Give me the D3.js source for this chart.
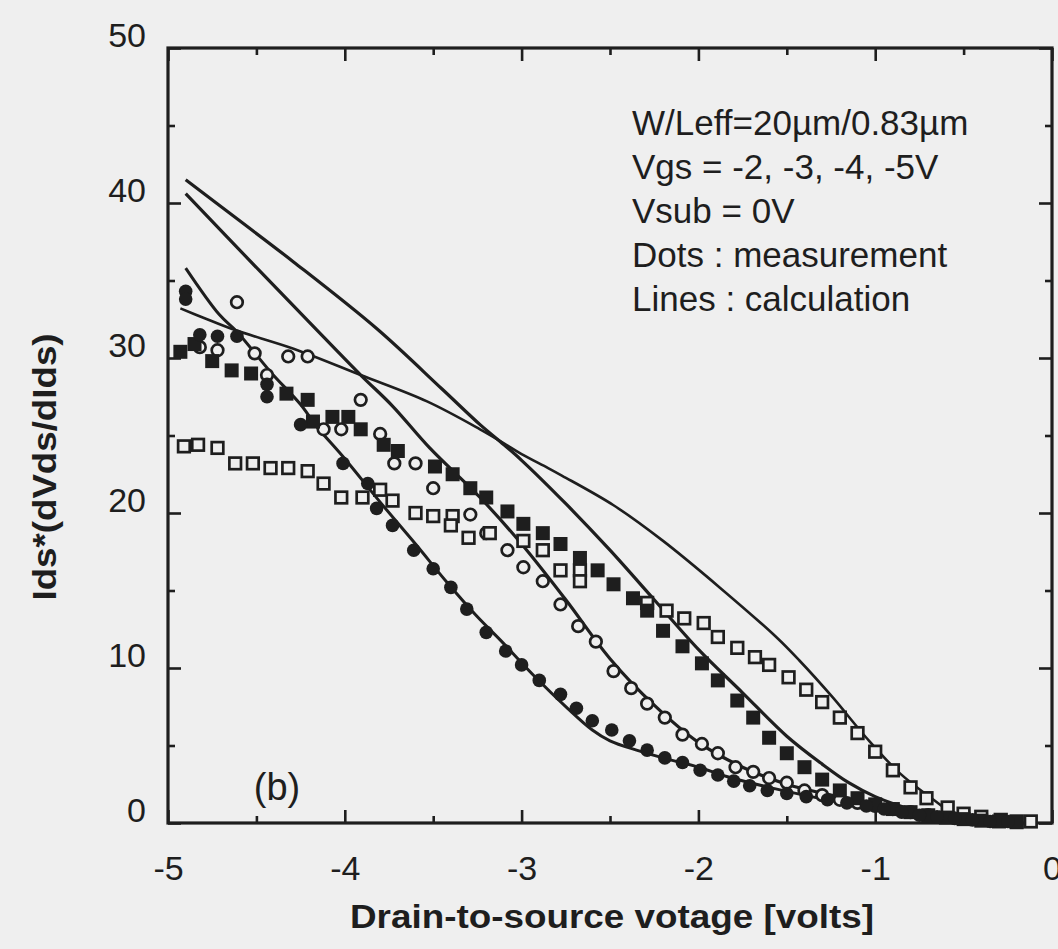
<!DOCTYPE html>
<html><head><meta charset="utf-8">
<script src="https://cdn.jsdelivr.net/npm/d3@7"></script>
<style>
body{margin:0;background:#efefef;}
svg{display:block;background:#efefef;}
text{font-family:"Liberation Sans",Arial,Helvetica,sans-serif;fill:#1e1e1e;}
</style>
</head><body>
<svg id="chart" width="1058" height="949"></svg>
<script>
// ---------- data ----------
const xMajorTicks = [-5,-4,-3,-2,-1,0];
const xMinorTicks = [-4.5,-3.5,-2.5,-1.5,-0.5];
const yMajorTicks = [0,10,20,30,40,50];
const yMinorTicks = [5,15,25,35,45];

const annotation = ["W/Leff=20\u00b5m/0.83\u00b5m","Vgs = -2, -3, -4, -5V","Vsub = 0V","Dots : measurement","Lines : calculation"];
const xTitle = "Drain-to-source votage [volts]";
const yTitle = "Ids*(dVds/dIds)";
const panelLabel = "(b)";

// calculation lines
const calcA = [[-4.90,41.5],[-4.60,38.9],[-4.29,36.2],[-3.82,31.9],[-3.45,28.0],[-3.235,25.7],[-3.12,24.6],[-3.0,23.4],[-2.75,20.6],[-2.5,17.6],[-2.25,14.4],[-2.0,11.2],[-1.75,8.4],[-1.5,5.6],[-1.3,3.8],[-1.15,2.6],[-1.0,1.7],[-0.8,0.9],[-0.6,0.4],[-0.4,0.15],[-0.2,0.05]];
const calcB = [[-4.90,40.6],[-4.48,35.6],[-4.20,32.3],[-3.91,28.9],[-3.73,26.9],[-3.52,24.2],[-3.235,21.0],[-3.0,18.0],[-2.75,14.4],[-2.5,10.6],[-2.25,7.6],[-2.0,5.2],[-1.75,3.6],[-1.5,2.5],[-1.25,1.8],[-1.0,1.2],[-0.75,0.7],[-0.5,0.35],[-0.25,0.1]];
const calcC = [[-4.90,35.8],[-4.71,32.8],[-4.61,31.7],[-4.42,29.1],[-4.25,27.0],[-4.16,25.6],[-4.0,23.5],[-3.8,20.7],[-3.6,18.0],[-3.42,15.5],[-3.25,13.3],[-3.12,11.8],[-2.93,9.5],[-2.74,7.4],[-2.6,6.0],[-2.5,5.3],[-2.35,4.7],[-2.2,4.2],[-2.0,3.6],[-1.84,3.0],[-1.6,2.3],[-1.27,1.5],[-1.0,1.0],[-0.8,0.7],[-0.6,0.4],[-0.4,0.2],[-0.2,0.05]];
const calcD = [[-4.93,33.2],[-4.80,32.6],[-4.62,31.8],[-4.29,30.6],[-3.91,28.9],[-3.535,27.2],[-3.235,25.4],[-3.1,24.5],[-3.0,23.8],[-2.85,22.9],[-2.77,22.4],[-2.48,20.5],[-2.20,18.2],[-1.88,15.2],[-1.56,12.0],[-1.43,10.5],[-1.24,8.1],[-1.05,5.5],[-0.86,3.2],[-0.67,1.5],[-0.58,0.8],[-0.39,0.2],[-0.2,0.05]];

// measurements
const filledCircles = [[-4.90,34.3],[-4.90,33.8],[-4.82,31.5],[-4.72,31.4],[-4.61,31.4],[-4.44,28.3],[-4.44,27.5],[-4.25,25.7],[-4.01,23.2],[-3.87,21.9],[-3.82,20.3],[-3.73,19.2],[-3.61,17.6],[-3.50,16.4],[-3.40,15.2],[-3.31,13.8],[-3.20,12.3],[-3.09,11.1],[-3.00,10.2],[-2.90,9.2],[-2.78,8.3],[-2.69,7.4],[-2.60,6.6],[-2.49,6.0],[-2.39,5.3],[-2.29,4.7],[-2.19,4.2],[-2.09,3.9],[-1.99,3.4],[-1.89,3.1],[-1.80,2.7],[-1.71,2.4],[-1.61,2.1],[-1.50,1.9],[-1.39,1.7],[-1.27,1.5],[-1.16,1.3],[-1.05,1.1],[-0.95,0.9],[-0.85,0.7],[-0.75,0.5],[-0.65,0.4],[-0.55,0.3],[-0.45,0.2],[-0.35,0.1],[-0.25,0.1]];
const openCircles = [[-4.61,33.6],[-4.82,30.7],[-4.72,30.5],[-4.51,30.3],[-4.44,28.9],[-4.32,30.1],[-4.21,30.1],[-3.91,27.3],[-4.12,25.4],[-4.02,25.4],[-3.80,25.1],[-3.72,23.2],[-3.60,23.2],[-3.50,21.6],[-3.29,19.9],[-3.20,18.7],[-3.08,17.6],[-2.99,16.5],[-2.88,15.6],[-2.78,14.1],[-2.68,12.7],[-2.58,11.7],[-2.48,9.8],[-2.38,8.7],[-2.29,7.7],[-2.19,6.8],[-2.09,5.7],[-1.98,5.1],[-1.89,4.5],[-1.79,3.6],[-1.69,3.3],[-1.60,2.9],[-1.50,2.6],[-1.40,2.1],[-1.30,1.8],[-1.20,1.5],[-1.10,1.3],[-1.00,1.1],[-0.90,0.9],[-0.80,0.7],[-0.70,0.5],[-0.60,0.4],[-0.50,0.3],[-0.40,0.2]];
const filledSquares = [[-4.93,30.4],[-4.85,30.9],[-4.75,29.8],[-4.64,29.2],[-4.53,29.0],[-4.33,27.7],[-4.21,27.3],[-4.18,25.9],[-4.07,26.2],[-3.98,26.2],[-3.91,25.4],[-3.78,24.4],[-3.70,24.0],[-3.49,23.0],[-3.39,22.5],[-3.29,21.6],[-3.20,21.0],[-3.08,20.1],[-2.99,19.3],[-2.88,18.7],[-2.78,18.0],[-2.67,17.1],[-2.57,16.3],[-2.48,15.4],[-2.37,14.5],[-2.29,13.7],[-2.20,12.4],[-2.09,11.4],[-1.98,10.3],[-1.89,9.2],[-1.78,7.9],[-1.69,6.8],[-1.60,5.5],[-1.50,4.5],[-1.40,3.6],[-1.30,2.8],[-1.20,2.1],[-1.10,1.6],[-1.00,1.2],[-0.90,0.9],[-0.80,0.7],[-0.70,0.5],[-0.60,0.35],[-0.50,0.25],[-0.40,0.15],[-0.30,0.1],[-0.20,0.05]];
const openSquares = [[-4.91,24.3],[-4.83,24.4],[-4.72,24.2],[-4.62,23.2],[-4.52,23.2],[-4.42,22.9],[-4.32,22.9],[-4.21,22.7],[-4.12,21.9],[-4.02,21.0],[-3.90,21.0],[-3.80,21.5],[-3.73,20.8],[-3.60,20.0],[-3.50,19.8],[-3.39,19.8],[-3.40,19.2],[-3.30,18.4],[-3.18,18.7],[-2.99,18.2],[-2.88,17.6],[-2.78,16.3],[-2.67,16.3],[-2.67,15.6],[-2.29,14.2],[-2.18,13.7],[-2.08,13.2],[-1.97,12.9],[-1.89,12.0],[-1.78,11.3],[-1.68,10.7],[-1.60,10.2],[-1.49,9.4],[-1.39,8.6],[-1.30,7.8],[-1.20,6.8],[-1.10,5.8],[-1.00,4.6],[-0.90,3.4],[-0.80,2.3],[-0.71,1.6],[-0.59,1.0],[-0.50,0.6],[-0.40,0.4],[-0.29,0.2],[-0.20,0.1],[-0.12,0.1]];

// ---------- drawing ----------
const ink = "#1e1e1e", paper = "#efefef";
const svg = d3.select("#chart");
const x = d3.scaleLinear().domain([-5,0]).range([168,1052]);
const y = d3.scaleLinear().domain([0,50]).range([823,48]);
const W = x(0)-x(-5), H = y(0)-y(50);
const fmt = d => String(d);

function styleAxis(g){
  g.select(".domain").remove();
  g.selectAll(".tick line").attr("stroke",ink).attr("stroke-width",2.6);
}
// bottom
svg.append("g").attr("transform",`translate(0,${y(0)})`)
  .call(d3.axisBottom(x).tickValues(xMajorTicks).tickSize(-13).tickPadding(33).tickFormat(fmt))
  .call(styleAxis)
  .call(g=>g.selectAll("text").attr("font-size",34).attr("fill",ink).style("font-family","Liberation Sans, Arial"));
svg.append("g").attr("transform",`translate(0,${y(0)})`)
  .call(d3.axisBottom(x).tickValues(xMinorTicks).tickSize(-7).tickFormat(""))
  .call(styleAxis);
// top
svg.append("g").attr("transform",`translate(0,${y(50)})`)
  .call(d3.axisTop(x).tickValues(xMajorTicks).tickSize(-13).tickFormat(""))
  .call(styleAxis);
svg.append("g").attr("transform",`translate(0,${y(50)})`)
  .call(d3.axisTop(x).tickValues(xMinorTicks).tickSize(-7).tickFormat(""))
  .call(styleAxis);
// left
svg.append("g").attr("transform",`translate(${x(-5)},0)`)
  .call(d3.axisLeft(y).tickValues(yMajorTicks).tickSize(-13).tickPadding(22).tickFormat(fmt))
  .call(styleAxis)
  .call(g=>g.selectAll("text").attr("font-size",34).attr("dy","-0.03em").attr("fill",ink).style("font-family","Liberation Sans, Arial"));
svg.append("g").attr("transform",`translate(${x(-5)},0)`)
  .call(d3.axisLeft(y).tickValues(yMinorTicks).tickSize(-7).tickFormat(""))
  .call(styleAxis);
// right
svg.append("g").attr("transform",`translate(${x(0)},0)`)
  .call(d3.axisRight(y).tickValues(yMajorTicks).tickSize(-13).tickFormat(""))
  .call(styleAxis);
svg.append("g").attr("transform",`translate(${x(0)},0)`)
  .call(d3.axisRight(y).tickValues(yMinorTicks).tickSize(-7).tickFormat(""))
  .call(styleAxis);

// frame
svg.append("rect").attr("x",x(-5)).attr("y",y(50)).attr("width",W).attr("height",H)
  .attr("fill","none").attr("stroke",ink).attr("stroke-width",3.2);

// lines
const line = d3.line().x(d=>x(d[0])).y(d=>y(d[1])).curve(d3.curveCatmullRom.alpha(0.5));
[[calcA,3.2],[calcB,3.2],[calcC,3.0],[calcD,2.6]].forEach(([data,w])=>{
  svg.append("path").datum(data).attr("d",line).attr("fill","none")
    .attr("stroke",ink).attr("stroke-width",w).attr("stroke-linejoin","round");
});

// markers
svg.append("g").selectAll("circle").data(openCircles).join("circle")
  .attr("cx",d=>x(d[0])).attr("cy",d=>y(d[1])).attr("r",5.8)
  .attr("fill",paper).attr("stroke",ink).attr("stroke-width",2.7);
svg.append("g").selectAll("rect").data(openSquares).join("rect")
  .attr("x",d=>x(d[0])-5.8).attr("y",d=>y(d[1])-5.8).attr("width",11.6).attr("height",11.6)
  .attr("fill",paper).attr("stroke",ink).attr("stroke-width",2.7);
svg.append("g").selectAll("rect").data(filledSquares).join("rect")
  .attr("x",d=>x(d[0])-7).attr("y",d=>y(d[1])-7).attr("width",14).attr("height",14)
  .attr("fill",ink);
svg.append("g").selectAll("circle").data(filledCircles).join("circle")
  .attr("cx",d=>x(d[0])).attr("cy",d=>y(d[1])).attr("r",6.8)
  .attr("fill",ink);

// annotation
const ann = svg.append("g");
annotation.forEach((t,i)=>{
  ann.append("text").attr("x",632).attr("y",135+i*44).attr("font-size",35).text(t);
});
// panel label
svg.append("text").attr("x",277).attr("y",800).attr("text-anchor","middle").attr("font-size",38).text(panelLabel);

// axis titles
svg.append("text").attr("x",612).attr("y",928).attr("text-anchor","middle")
  .attr("font-size",33).attr("font-weight","bold")
  .attr("textLength",524).attr("lengthAdjust","spacingAndGlyphs").text(xTitle);
svg.append("text").attr("transform","translate(56,467) rotate(-90)").attr("text-anchor","middle")
  .attr("font-size",34).attr("font-weight","bold")
  .attr("textLength",267).attr("lengthAdjust","spacingAndGlyphs").text(yTitle);
</script>
</body></html>
